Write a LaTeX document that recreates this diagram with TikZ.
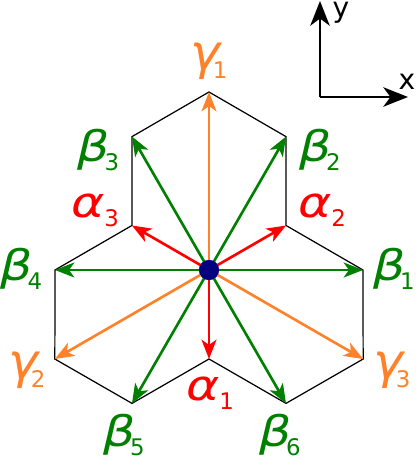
\documentclass[tikz,border=0pt]{standalone}
\usepackage{fontspec}
\setmainfont{DejaVu Sans}
\usepackage{xcolor}
\usepackage{graphicx}
\usepackage{tikz}
\usetikzlibrary{arrows.meta}

\definecolor{alphared}{RGB}{255,0,0}
\definecolor{betagreen}{RGB}{0,128,0}
\definecolor{gammaorange}{RGB}{255,130,42}
\definecolor{dotnavy}{RGB}{0,0,128}

% Greek letter, widened, with a digit below and to the right
\newcommand{\rootlab}[3][-3pt]{\scalebox{1.2}[1]{\itshape #2}\kern#1\raisebox{-5pt}{\fontsize{13}{13}\selectfont #3}}

\tikzset
{
  cell/.style={draw=black,line width=0.7pt,line join=miter},
  rootvec/.style={line width=1.5pt,-{Stealth[length=11pt,width=8.5pt,inset=3pt]}},
  alpharoot/.style={rootvec,draw=alphared},
  betaroot/.style={rootvec,draw=betagreen},
  gammaroot/.style={rootvec,draw=gammaorange},
  rootname/.style={inner sep=0pt,font=\fontsize{24}{24}\selectfont},
  axis/.style={line width=1.7pt,-{Stealth[length=14pt,width=11pt,inset=4pt]}}
}

\begin{document}
\begin{tikzpicture}
        \useasboundingbox (-4.18,-3.72) rectangle (4.12,5.40);

        % Lattice points
        \coordinate (a1) at (-90:1.78);
        \coordinate (a2) at (30:1.78);
        \coordinate (a3) at (150:1.78);
        \coordinate (b1) at (0:3.08);
        \coordinate (b2) at (60:3.08);
        \coordinate (b3) at (120:3.08);
        \coordinate (b4) at (180:3.08);
        \coordinate (b5) at (240:3.08);
        \coordinate (b6) at (300:3.08);
        \coordinate (g1) at (90:3.56);
        \coordinate (g2) at (210:3.56);
        \coordinate (g3) at (330:3.56);

        % Outline of the three cells
        \draw[cell] (g1) -- (b2) -- (a2) -- (b1) -- (g3) -- (b6) -- (a1)
            -- (b5) -- (g2) -- (b4) -- (a3) -- (b3) -- cycle;

        % Centre
        \node[circle,fill=dotnavy,inner sep=0pt,minimum size=0.4cm] (o) at (0,0) {};

        % Root vectors
        \foreach \g in {g1,g2,g3}
            \draw[gammaroot] (o.center) -- (\g);
        \foreach \b in {b1,b2,b3,b4,b5,b6}
            \draw[betaroot] (o.center) -- (\b);
        \foreach \a in {a1,a2,a3}
            \draw[alpharoot] (o.center) -- (\a);
        \fill[dotnavy] (o.center) circle (0.2);

        % Labels
        \node[rootname,text=gammaorange] (lg1) at (0.0,4.18) {\rootlab[-4.5pt]{\scalebox{1}[1.15]{γ}}{1}};
        \node[rootname,text=gammaorange] (lg2) at (-3.64,-2.0) {\rootlab[-4.5pt]{\scalebox{1}[1.15]{γ}}{2}};
        \node[rootname,text=gammaorange] (lg3) at (3.66,-2.0) {\rootlab[-4.5pt]{\scalebox{1}[1.15]{γ}}{3}};
        \node[rootname,text=betagreen] (lb1) at (3.70,0.02) {\rootlab{β}{1}};
        \node[rootname,text=betagreen] (lb2) at (2.22,2.40) {\rootlab{β}{2}};
        \node[rootname,text=betagreen] (lb3) at (-2.21,2.40) {\rootlab{β}{3}};
        \node[rootname,text=betagreen] (lb4) at (-3.75,0.02) {\rootlab{β}{4}};
        \node[rootname,text=betagreen] (lb5) at (-1.70,-3.30) {\rootlab{β}{5}};
        \node[rootname,text=betagreen] (lb6) at (1.42,-3.30) {\rootlab{β}{6}};
        \node[rootname,text=alphared] (la1) at (0.02,-2.46) {\rootlab[0pt]{α}{1}};
        \node[rootname,text=alphared] (la2) at (2.26,1.20) {\rootlab[0pt]{α}{2}};
        \node[rootname,text=alphared] (la3) at (-2.28,1.20) {\rootlab[0pt]{α}{3}};

        % Axes
        \coordinate (ax) at (2.22,3.46);
        \coordinate (axx) at (3.98,3.46);
        \coordinate (axy) at (2.22,5.38);
        \draw[axis] (ax) -- (axx);
        \draw[axis] (ax) -- (axy);
        \node[inner sep=0pt,font=\fontsize{16}{16}\selectfont] (xl) at (3.96,3.76) {x};
        \node[inner sep=0pt,font=\fontsize{16}{16}\selectfont] (yl) at (2.64,5.14) {y};
    \end{tikzpicture}
\end{document}
